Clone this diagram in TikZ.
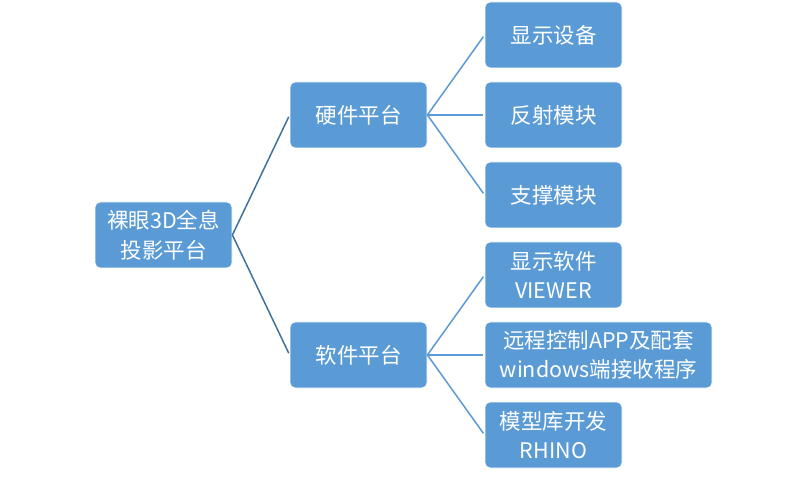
\documentclass[tikz,border=0pt]{standalone}
\usepackage{fontspec}
\setmainfont{Noto Sans CJK SC}
\definecolor{boxfill}{HTML}{5B9BD5}
\definecolor{linedark}{HTML}{41719C}
\definecolor{linelight}{HTML}{5B9BD5}
\begin{document}
\begin{tikzpicture}[x=1pt,y=1pt,
  box/.style={fill=boxfill,draw=white,line width=0.8pt,rounded corners=5pt,
    minimum width=137pt,minimum height=66pt,inner sep=0pt,text=white,
    font=\fontsize{21.5}{29.5}\selectfont,align=center},
  conn1/.style={draw=linedark,line width=1.5pt,shorten >=2pt},
  conn2/.style={draw=linelight,line width=1.5pt,shorten >=2pt}]
\useasboundingbox (0,0) rectangle (806,477);
\node[box] (root) at (163.5,242) {裸眼3D全息\\投影平台};
\node[box] (hw) at (358.5,362) {硬件平台};
\node[box] (sw) at (358.5,122) {软件平台};
\node[box] (l1) at (553.5,442) {显示设备};
\node[box] (l2) at (553.5,362) {反射模块};
\node[box] (l3) at (553.5,282) {支撑模块};
\node[box] (l4) at (553.5,202) {显示软件\\VIEWER};
\node[box,minimum width=227pt] (l5) at (598.5,122) {远程控制APP及配套\\windows端接收程序};
\node[box] (l6) at (553.5,42) {模型库开发\\RHINO};
\draw[conn1] (root.east) -- (hw.west);
\draw[conn1] (root.east) -- (sw.west);
\foreach \l in {l1,l2,l3} \draw[conn2] (hw.east) -- (\l.west);
\foreach \l in {l4,l5,l6} \draw[conn2] (sw.east) -- (\l.west);
\end{tikzpicture}
\end{document}
